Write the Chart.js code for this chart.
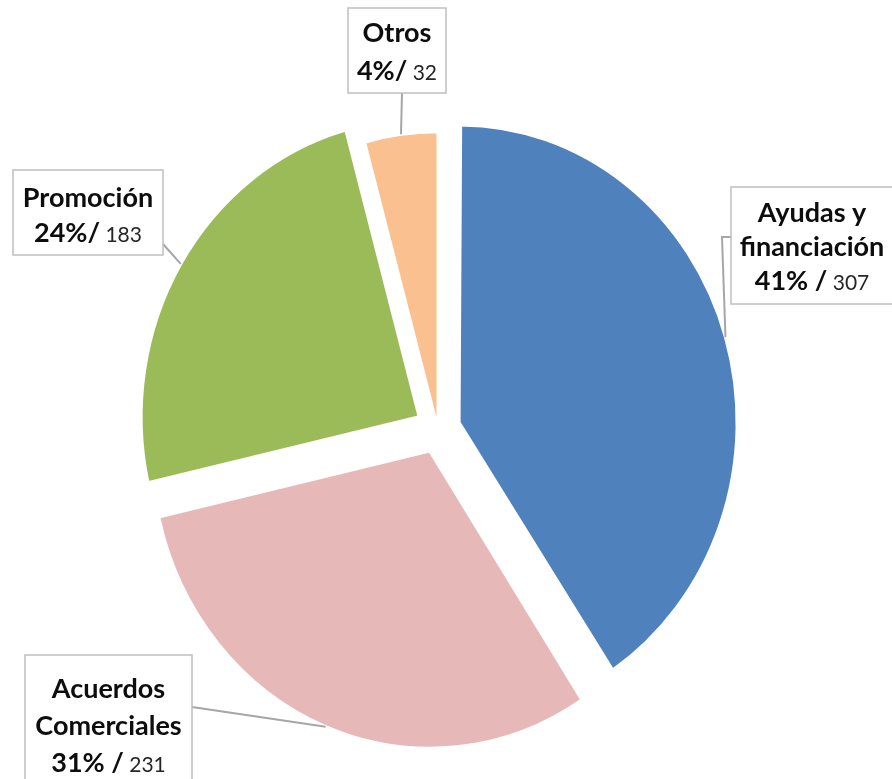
<!DOCTYPE html>
<html>
<head>
<meta charset="utf-8">
<script src="https://cdn.jsdelivr.net/npm/chart.js@4"></script>
<style>
  html, body { margin:0; padding:0; background:#fff; }
  #wrap { width:892px; height:779px; }
</style>
</head>
<body>
<div id="wrap"><canvas id="pie" width="892" height="779"></canvas></div>
<script>
// data
const categories = ['Ayudas y financiación', 'Acuerdos Comerciales', 'Promoción', 'Otros'];
const values     = [307, 231, 183, 32];
const percents   = ['41%', '31%', '24%', '4%'];
const pctSep     = [' / ', ' / ', '/ ', '/ '];
const nameLines  = [['Ayudas y', 'financiación'], ['Acuerdos', 'Comerciales'], ['Promoción'], ['Otros']];

// style / layout
const colors  = ['#4F81BD', '#E6B9B8', '#9BBB59', '#FAC090'];
const explode = [88, 88, 88, 0];   // chart.js moves an arc by offset/4 px
const RADIUS  = 278;
const STRETCH = 1.07;              // the original pie is a little taller than wide
const BOLD = 'bold 27px Lato', REG = '21px Lato';

// label boxes: x, y, w, h, text baselines, leader start points
const boxes = [
  { x:731, y:187, w:162, h:117, ys:[222, 256, 290], lead:[[731,237],[722,237]] },
  { x:25,  y:655, w:167, h:130, ys:[698, 735, 772], lead:[[192,707]] },
  { x:13,  y:170, w:150, h:85,  ys:[207, 242],      lead:[[163,244]] },
  { x:348, y:8,   w:98,  h:85,  ys:[42, 80],        lead:[[402,93]] },
];

// keep every slice at the same radius (chart.js grows offset arcs a bit)
const radiusFix = {
  id:'radiusFix',
  afterDatasetsUpdate(chart) {
    chart.getDatasetMeta(0).data.forEach((a, i) => {
      const t = explode[i] / 4;
      a.outerRadius -= t * (1 - Math.sin(Math.min(Math.PI, a.circumference)));
    });
  }
};

const stretch = {
  id:'stretch',
  beforeDatasetsDraw(chart) {
    const a = chart.getDatasetMeta(0).data[0], ctx = chart.ctx;
    ctx.save();
    ctx.translate(a.x, a.y); ctx.scale(1, STRETCH); ctx.translate(-a.x, -a.y);
  },
  afterDatasetsDraw(chart) { chart.ctx.restore(); }
};

const labels = {
  id:'labels',
  afterDraw(chart) {
    const ctx = chart.ctx;
    chart.getDatasetMeta(0).data.forEach((a, i) => {
      const b = boxes[i];
      const h = (a.startAngle + a.endAngle) / 2;
      const d = explode[i] / 4 + RADIUS;
      const px = a.x + Math.cos(h) * d;
      const py = a.y + Math.sin(h) * d * STRETCH;

      ctx.save();
      ctx.strokeStyle = '#A6A6A6'; ctx.lineWidth = 2;
      ctx.beginPath();
      b.lead.forEach((p, k) => k ? ctx.lineTo(p[0], p[1]) : ctx.moveTo(p[0], p[1]));
      ctx.lineTo(px, py);
      ctx.stroke();

      ctx.fillStyle = '#fff';
      ctx.fillRect(b.x, b.y, b.w, b.h);
      ctx.strokeStyle = '#BFBFBF'; ctx.lineWidth = 1.5;
      ctx.strokeRect(b.x, b.y, b.w, b.h);

      const cx = b.x + b.w / 2;
      ctx.textBaseline = 'alphabetic'; ctx.textAlign = 'left';
      const lines = nameLines[i].map(t => [[t, BOLD]]);
      lines.push([[percents[i] + pctSep[i].trimEnd(), BOLD], [' ' + values[i], REG]]);
      lines.forEach((segs, k) => {
        let w = 0;
        segs.forEach(s => { ctx.font = s[1]; w += ctx.measureText(s[0]).width; });
        let x = cx - w / 2;
        segs.forEach(s => {
          ctx.font = s[1];
          ctx.fillStyle = s[1] === BOLD ? '#0D0D0D' : '#262626';
          ctx.fillText(s[0], x, b.ys[k]);
          x += ctx.measureText(s[0]).width;
        });
      });
      ctx.restore();
    });
  }
};

new Chart(document.getElementById('pie'), {
  type:'pie',
  data:{
    labels: categories,
    datasets:[{
      data: values,
      backgroundColor: colors,
      borderColor:'#fff', borderWidth:3,
      offset: explode,
      radius: RADIUS,
      clip:false,
    }],
  },
  options:{
    responsive:false, animation:false, events:[],
    layout:{ padding:{ left:0, right:16, top:79, bottom:0 } },
    plugins:{ legend:{display:false}, tooltip:{enabled:false} },
  },
  plugins:[radiusFix, stretch, labels],
});
</script>
</body>
</html>
